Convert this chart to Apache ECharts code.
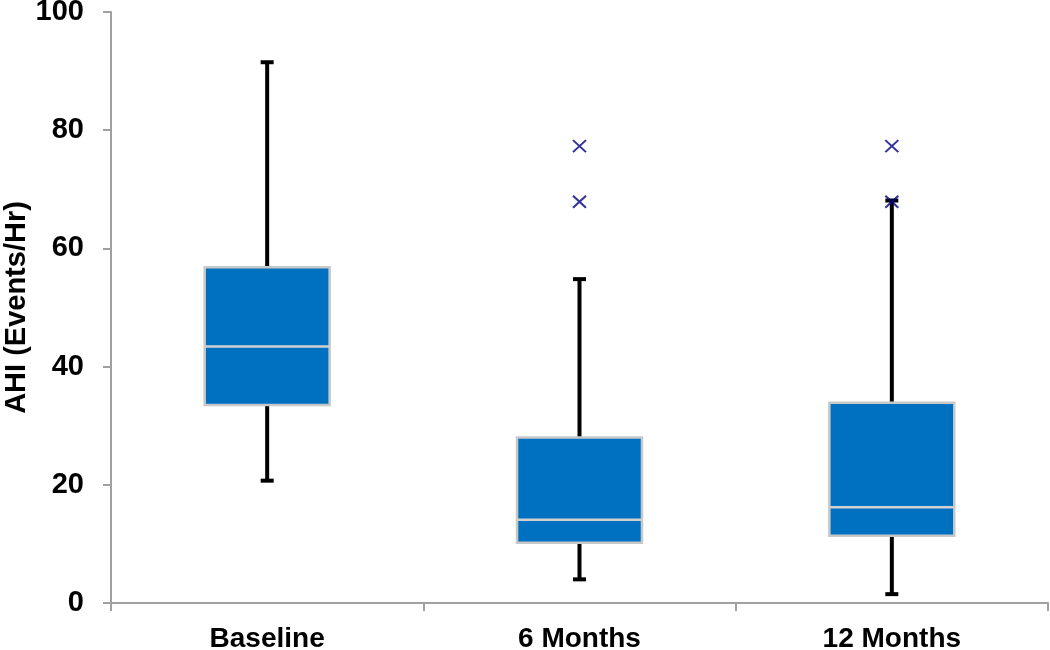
<!DOCTYPE html>
<html>
<head>
<meta charset="utf-8">
<script src="https://cdn.jsdelivr.net/npm/echarts@6/dist/echarts.min.js"></script>
<style>
html,body{margin:0;padding:0;background:#fff;}
#main{width:1050px;height:650px;}
</style>
</head>
<body>
<div id="main"></div>
<script>
var categories = ['Baseline', '6 Months', '12 Months'];
var whiskerLow = [20.7, 4.0, 1.5];
var q1 = [33.5, 10.2, 11.4];
var median = [43.4, 14.1, 16.2];
var q3 = [56.8, 28.0, 33.9];
var whiskerHigh = [91.5, 54.8, 68.1];
var outlierCat = [1, 1, 2, 2];
var outlierVal = [77.3, 67.9, 77.3, 67.9];
var yTicks = [0, 20, 40, 60, 80, 100];

var boxData = categories.map(function (c, i) {
  return [i, whiskerLow[i], q1[i], median[i], q3[i], whiskerHigh[i]];
});
var outlierData = outlierCat.map(function (c, i) { return [c, outlierVal[i]]; });

var chart = echarts.init(document.getElementById('main'));
var FONT = '"Liberation Sans", Arial, sans-serif';

function renderBox(params, api) {
  var idx = api.value(0);
  var pLow = api.coord([idx, api.value(1)]);
  var pQ1 = api.coord([idx, api.value(2)]);
  var pMed = api.coord([idx, api.value(3)]);
  var pQ3 = api.coord([idx, api.value(4)]);
  var pHigh = api.coord([idx, api.value(5)]);
  var bandW = api.size([1, 0])[0];
  var boxW = bandW * 0.4;
  var capW = 13;
  var x = pMed[0];
  var black = { stroke: '#000', lineWidth: 4 };
  return {
    type: 'group',
    children: [
      { type: 'line', shape: { x1: x, y1: pHigh[1], x2: x, y2: pQ3[1] }, style: black },
      { type: 'line', shape: { x1: x, y1: pQ1[1], x2: x, y2: pLow[1] }, style: black },
      { type: 'line', shape: { x1: x - capW / 2, y1: pHigh[1], x2: x + capW / 2, y2: pHigh[1] }, style: black },
      { type: 'line', shape: { x1: x - capW / 2, y1: pLow[1], x2: x + capW / 2, y2: pLow[1] }, style: black },
      { type: 'rect', shape: { x: x - boxW / 2, y: pQ3[1], width: boxW, height: pQ1[1] - pQ3[1] },
        style: { fill: '#0070C0', stroke: '#c8c8c8', lineWidth: 2.5 } },
      { type: 'line', shape: { x1: x - boxW / 2, y1: pMed[1], x2: x + boxW / 2, y2: pMed[1] },
        style: { stroke: '#d0d0d0', lineWidth: 2.5 } }
    ]
  };
}

chart.setOption({
  animation: false,
  backgroundColor: '#fff',
  grid: { left: 111, right: 2, top: 12, bottom: 47, containLabel: false, outerBoundsMode: 'none' },
  xAxis: {
    type: 'category',
    data: categories,
    boundaryGap: true,
    axisLine: { lineStyle: { color: '#a0a0a0', width: 2 } },
    axisTick: { show: true, alignWithLabel: false, length: 8, lineStyle: { color: '#a0a0a0', width: 2 } },
    axisLabel: { color: '#000', fontFamily: FONT, fontWeight: 'bold', fontSize: 28, margin: 22 },
    splitLine: { show: false }
  },
  yAxis: {
    type: 'value',
    min: yTicks[0],
    max: yTicks[yTicks.length - 1],
    interval: yTicks[1] - yTicks[0],
    name: 'AHI (Events/Hr)',
    nameLocation: 'middle',
    nameGap: 80,
    nameRotate: 90,
    nameMoveOverlap: false,
    nameTextStyle: { color: '#000', fontFamily: FONT, fontWeight: 'bold', fontSize: 29 },
    axisLine: { show: true, lineStyle: { color: '#a0a0a0', width: 2 } },
    axisTick: { show: true, length: 8, lineStyle: { color: '#a0a0a0', width: 2 } },
    axisLabel: { color: '#000', fontFamily: FONT, fontWeight: 'bold', fontSize: 29, margin: 27 },
    splitLine: { show: false }
  },
  series: [
    {
      type: 'custom',
      renderItem: renderBox,
      data: boxData,
      encode: { x: 0, y: [1, 2, 3, 4, 5] },
      z: 2
    },
    {
      type: 'scatter',
      data: outlierData,
      symbol: 'path://M0,0L10,10M10,0L0,10',
      symbolSize: [13, 12],
      itemStyle: { color: 'none', borderColor: '#000080', borderWidth: 2 },
      z: 3
    }
  ]
});
</script>
</body>
</html>
